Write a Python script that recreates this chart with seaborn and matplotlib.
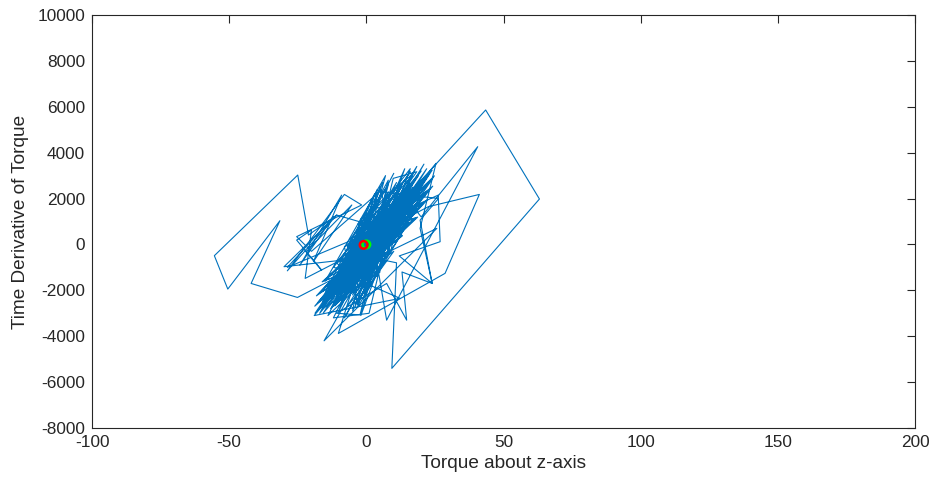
import numpy as np
import pandas as pd
import matplotlib
matplotlib.use("Agg")
import matplotlib.pyplot as plt
import seaborn as sns

# ---- data ----
core_a_x = [0, -3, 12, -9, 6, -14, 10, -4, 16, -11, 1, 14, -3, 5, -16, 20, -6, 4, -12, 9,
            5, -10, 13, -2, 11, -15, 7, -5, 17, -8, -3, 15, -13, 5, -1, 19, -9, 10, -17, 6,
            12, -3, 8, -11, 22, 0, -2, 14, -14, 3]
core_a_y = [0, 400, 2100, -1800, 2700, -2300, -300, -2600, 2900, -800, -1900, 1200, 900, -1200, -2800,
            3200, -400, 1900, -2100, 600, 2500, -2900, 2600, -1500, 1800, -1600, 3000, -2200, 2300, -100,
            -2700, 900, -2500, 1400, -800, 2700, -1300, 3100, -3000, 300, 1500, -2000, 2300, -2400, 3300,
            -1000, 1100, 2800, -1900, 800]

left_x = [-10.8, -21.1, -25.0, -55.4, -50.5, -31.5, -42.0, -25.1, -12.0]
left_y = [1280, 410, 3025, -490, -1945, 1035, -1700, -2310, -1500]

ell_a_x = [23.0, -0.7, -6.5, 12.6, -10.7, 6.2, 7.8, -9.7, 24.0, -1.0, -1.5, 20.2, -11.4, 10.4, 8.1,
           -7.6, 21.9, 3.1, -1.8, 14.5, -15.7, 11.0, 7.5, -16.1, 20.9, 3.2, -2.1, 10.9, -15.9, 7.6,
           6.9, -8.5, 24.8, -2.1, 2.9, 17.1, -17.0, 13.6, 8.7, -6.6]
ell_a_y = [3090, -1280, -50, 1040, -2520, 930, -310, -1280, 3240, -1390, 50, 1750, -2670, 1970, -340,
           -1040, 2930, -260, 610, 1220, -2990, 2100, 250, -2000, 2780, -800, 640, 670, -2630, 1040,
           -230, -920, 2990, -1800, 690, 1090, -2790, 2230, -400, -740]

left_hollow_x = [-5.0, -28.8, -12.0, -24.2, -9.0, -19.3, -5.3, -22.0, -16.3, -25.4, -20.0, -22.3, -8.0]
left_hollow_y = [200, -1000, 1210, -900, 2150, -750, 1720, -320, -1120, 190, 630, -1480, -600]

right1_x = [10.0, 43.5, 63.1, 9.3, 11.0]
right1_y = [1500, 5860, 1980, -5400, -800]

core_b_x = [7, -7, 18, 1, 4, -12, 16, -1, 7, -9, 11, -4, 13, -16, 8, -1, 20, -10, 2, -5,
            15, -4, 9, -13, 6, 0, 17, -3, 10, -11, 21, -6, 3, -15, 12, -3, 8, -6, 14, -4,
            5, -12, 19, 1, -7, 11, -14, 4, -1, 16]
core_b_y = [-700, -2700, 2000, 1500, -1400, -1000, 3300, -2300, 1000, -2600, 2700, -300, 400, -2500, 2800,
            -1900, 2500, -1500, 1700, -2900, 1600, 500, 2000, -2800, -500, 1200, 3100, -2600, 1100, -1100,
            2900, -1700, 2200, -2100, 300, -2400, 2600, 200, 2000, -1100, -1000, -2700, 3000, 600, -1400,
            1300, -2200, 2400, -600, 1800]

right2_x = [20.0, 40.6, 7.4, 3.0]
right2_y = [1200, 4260, -3300, -200]

right_hollow_x = [5.0, 26.2, 26.9, 12.0, 24.0, 19.6, 25.4, 8.0, 18.4, 3.0, 14.0, 6.0, 21.0, 10.0]
right_hollow_y = [1000, 2150, 120, -500, -1700, 700, 3535, 900, 3400, 400, 3300, 600, 3500, 1200]

ell_b_x = [22.6, 1.4, 2.8, 12.4, -18.0, 14.4, 5.4, -14.2, 23.7, 0.1, 2.7, 8.6, -16.6, 8.6, 3.2,
           -6.4, 24.2, -5.0, 5.1, 13.1, -17.7, 16.1, 3.3, -4.9, 22.1, -0.2, 7.3, 9.7, -18.8, 17.0,
           3.1, -11.1, 23.1, -4.4, 7.5, 6.0, -14.0, 9.3, -1.3, -3.7]
ell_b_y = [2700, -460, 1240, 780, -2940, 2380, -80, -1450, 2840, -980, 1310, 270, -2400, 1090, -940,
           -480, 2540, -1800, 970, 370, -2540, 2350, -1010, -370, 2300, -630, 1790, 290, -2690, 2500,
           -390, -790, 2420, -1670, 1890, -140, -1760, 1080, -1490, 10]

right3_x = [22.6, 41.2, 28.7, -10.2, -4.0]
right3_y = [1645, 2180, -1260, -3880, -1500]

bottom_x = [12.3, -19.0, -5.0, -14.0, 0.0, -8.0, 3.0, -2.0, 6.0, 1.0, -12.0, -2.0]
bottom_y = [-2350, -3100, -1000, -3100, -1500, -3200, -900, -3100, -500, -3000, -3200, -800]

ell_c_x = [22.1, -8.4, 7.2, 8.4, -17.1, 17.7, -1.5, -2.6, 18.3, -1.6, 11.5, 6.6, -18.2, 18.8, 0.9,
           -7.1, 21.1, -7.6, 12.0, 3.2, -10.4, 9.5, -5.5, -0.6, 18.7, -11.0, 9.1, 3.3, -15.1, 18.3,
           -6.0, 0.0, 15.6, -2.6, 15.2, 3.2, -16.1, 19.4, -1.2, -2.4, 17.9, -10.1, 15.9, 0.3]
ell_c_y = [1930, -2080, 1190, -370, -2120, 2310, -1590, 30, 1570, -740, 2230, -200, -2240, 2470, -670,
           -70, 1840, -1930, 2360, -530, -1090, 1000, -1930, 500, 1190, -2200, 1340, -1070, -1540, 2130,
           -2060, 440, 980, -790, 2520, -670, -1630, 2280, -890, 670, 1140, -2050, 2670, -870]

misc_x = [-15.4, 25.7, 5.0, -30.0, -10.8, -28.8, -8.0, -1.7, -25.4, -20.0, 4.8, 26.3, 19.6, 24.0,
          13.0, 14.7, 7.4, -10.8, -2.3, 9.8, 18.4, -18.7, 16.0, -6.0, 2.0, -1.0]
misc_y = [-4200, 700, -500, -970, 1280, -1150, 2180, 1720, 340, -300, 2300, 2000, 1060, -1700,
          -1200, -3300, -1700, -3000, -3070, 2880, 3170, -3000, 3170, -800, 300, -20]

start_pt = (0.0, 0.0)
end_pt = (-1.0, -20.0)

xs = (core_a_x + left_x + ell_a_x + left_hollow_x + right1_x + core_b_x + right2_x + right_hollow_x
      + ell_b_x + right3_x + bottom_x + ell_c_x + misc_x)
ys = (core_a_y + left_y + ell_a_y + left_hollow_y + right1_y + core_b_y + right2_y + right_hollow_y
      + ell_b_y + right3_y + bottom_y + ell_c_y + misc_y)
df = pd.DataFrame({"x": xs, "y": ys, "t": np.arange(len(xs))})

sns.set_theme(style="white")
plt.rcParams["font.family"] = ["Liberation Sans", "DejaVu Sans"]
plt.rcParams["axes.unicode_minus"] = False
axc = "#262626"

fig = plt.figure(figsize=(9.36, 4.87), dpi=100)
ax = fig.add_axes([92 / 936, 1 - 428 / 487, (915 - 92) / 936, (428 - 15) / 487])

sns.lineplot(data=df, x="x", y="y", sort=False, estimator=None, color="#0072BD",
             linewidth=0.8, ax=ax)
sns.scatterplot(x=[start_pt[0]], y=[start_pt[1]], marker="o", s=30, facecolors="none",
                edgecolor="#00ff00", linewidth=1.8, ax=ax, zorder=5)
sns.scatterplot(x=[end_pt[0]], y=[end_pt[1]], marker="o", s=30, facecolors="none",
                edgecolor="#ff0000", linewidth=1.8, ax=ax, zorder=6)

ax.set_xlim(-100, 200)
ax.set_ylim(-8000, 10000)
ax.set_xticks(np.arange(-100, 201, 50))
ax.set_yticks(np.arange(-8000, 10001, 2000))
ax.set_xlabel("Torque about z-axis", fontsize=13.7, color=axc, labelpad=4)
ax.set_ylabel("Time Derivative of Torque", fontsize=13.7, color=axc, labelpad=6)
ax.tick_params(axis="both", direction="in", length=6, width=0.8, colors=axc,
               labelsize=12.4, top=True, right=True, pad=5)
for s in ax.spines.values():
    s.set_color(axc)
    s.set_linewidth(0.8)
    s.set_visible(True)

fig.savefig("out.png", dpi=100)
